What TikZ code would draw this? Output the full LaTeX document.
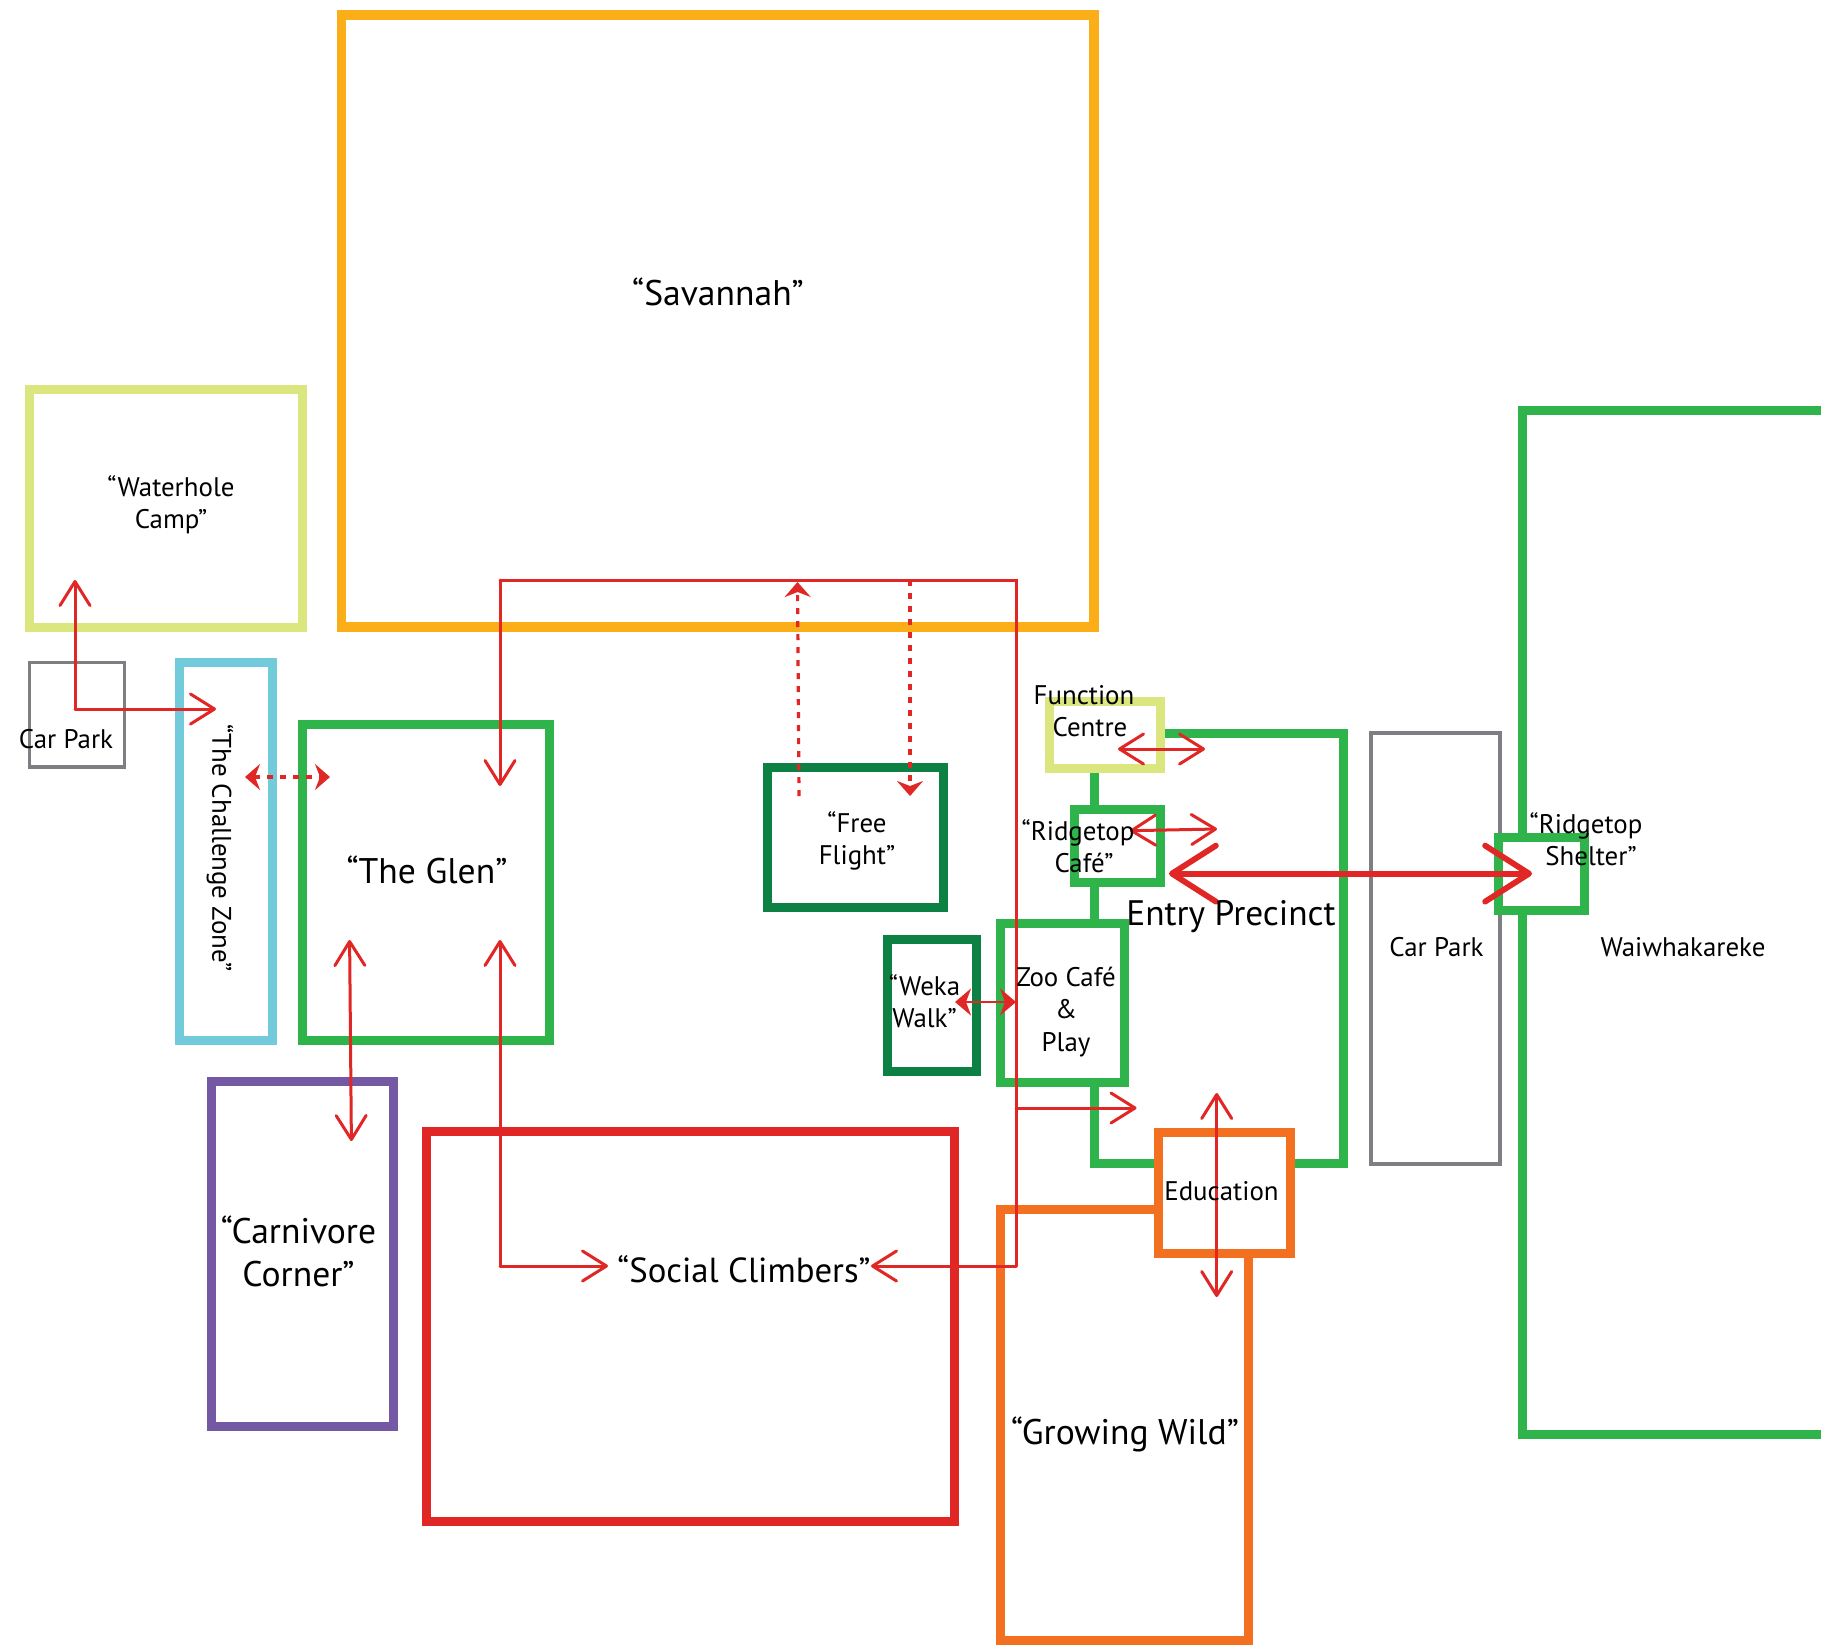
\documentclass[tikz,border=0pt]{standalone}
\usepackage{fontspec}
\setmainfont{PT Sans}
\usetikzlibrary{arrows.meta}
\definecolor{cgreen}{HTML}{2FB44B}
\definecolor{clime}{HTML}{DCE67F}
\definecolor{camber}{HTML}{FBAE17}
\definecolor{cteal}{HTML}{71CBDB}
\definecolor{cpurple}{HTML}{7558A4}
\definecolor{cred}{HTML}{E12726}
\definecolor{corange}{HTML}{F37021}
\definecolor{cgray}{HTML}{7D7F82}
\definecolor{cdark}{HTML}{0D8044}
\newcommand{\zone}[6]{%
  \pgfmathsetmacro{\zw}{(#4-#2)*0.5}\pgfmathsetmacro{\zh}{(#5-#3)*0.5}%
  \pgfmathsetmacro{\zx}{(#4+#2)/2}\pgfmathsetmacro{\zy}{(#5+#3)/2}%
  \node[zonebox,#6,minimum width=\zw pt,minimum height=\zh pt] (#1) at (\zx,\zy) {};}
\tikzset{
  zonebox/.style={rectangle,inner sep=0pt,outer sep=0pt,fill=white,line width=4.5pt,draw},
  thin box/.style={line width=1.8pt},
  small/.style={font=\fontsize{13.45}{16.2}\selectfont,align=center,inner sep=0pt,text=black},
  big/.style={font=\fontsize{17.8}{21.5}\selectfont,align=center,inner sep=0pt,text=black},
  link/.style={cred,line width=1.5pt,line cap=round,line join=miter},
  linkto/.style={link,-{Straight Barb[length=12pt,width=15pt,round]}},
  linkboth/.style={link,{Straight Barb[length=12pt,width=15pt,round]}-{Straight Barb[length=12pt,width=15pt,round]}},
  dotlink/.style={cred,line width=1.6pt,dash pattern=on 3pt off 3.5pt,-{Stealth[length=7.5pt,width=13pt,inset=2.5pt]}},
  dotboth/.style={cred,line width=1.6pt,dash pattern=on 3pt off 3.5pt,{Stealth[length=7.5pt,width=13pt,inset=2.5pt]}-{Stealth[length=7.5pt,width=13pt,inset=2.5pt]}},
  solidboth/.style={cred,line width=1.3pt,{Stealth[length=8pt,width=13.5pt,inset=2.5pt]}-{Stealth[length=8pt,width=13.5pt,inset=2.5pt]}},
  wide/.style={cred,line width=2.9pt,line cap=round,{Straight Barb[length=22pt,width=28pt,round]}-{Straight Barb[length=22pt,width=28pt,round]}}
}
\begin{document}
\begin{tikzpicture}[x=0.5pt,y=-0.5pt]
\useasboundingbox (0,0) rectangle (1821,1645);
\clip (0,0) rectangle (1821,1645);
% zones
\zone{water}{29.5}{389}{302.5}{627}{draw=clime}
\zone{savannah}{341.5}{15}{1094}{627}{draw=camber,line width=4.8pt}
\zone{lotw}{29.5}{662.5}{124.5}{767}{draw=cgray,thin box}
\zone{challenge}{179}{662.5}{272.5}{1040.5}{draw=cteal}
\zone{glen}{302}{724.5}{549.5}{1040.5}{draw=cgreen}
\zone{carnivore}{211}{1081}{393}{1426}{draw=cpurple}
\zone{social}{426}{1131}{954}{1521}{draw=cred}
\zone{free}{767.5}{767.5}{943.5}{907.5}{draw=cdark}
\zone{weka}{887}{939.5}{976.5}{1071.5}{draw=cdark}
\zone{waiwha}{1522.5}{410}{1900}{1434}{draw=cgreen}
\zone{entry}{1094.5}{733}{1343.5}{1163}{draw=cgreen}
\zone{lote}{1371}{733}{1500}{1164}{draw=cgray,thin box}
\zone{shelter}{1498}{837.5}{1584}{910.5}{draw=cgreen}
\zone{function}{1049}{701.5}{1160}{768}{draw=clime}
\zone{ridgecafe}{1074}{809.5}{1160}{882.5}{draw=cgreen}
\zone{zoocafe}{1000}{923.5}{1124}{1082.5}{draw=cgreen}
\zone{growing}{1000}{1209.5}{1248}{1640}{draw=corange}
\zone{education}{1158}{1132}{1290}{1253.5}{draw=corange}
% free ends of connectors
\coordinate (lotstart) at (75,709);
\coordinate (watertip) at (75,580);
\coordinate (chaltip) at (216,709);
\coordinate (dchal) at (245,777);
\coordinate (dglen) at (330,777);
\coordinate (ringtl) at (500,580);
\coordinate (ringtr) at (1016,580);
\coordinate (ringbr) at (1016,1266);
\coordinate (ringbl) at (500,1266);
\coordinate (glendown) at (500,786);
\coordinate (glenup) at (500,940);
\coordinate (socleft) at (608,1266);
\coordinate (socright) at (871,1266);
\coordinate (glencarn) at (349.6,940);
\coordinate (carnglen) at (351.4,1141);
\coordinate (freeoutb) at (799,796);
\coordinate (freeoutt) at (797.5,582);
\coordinate (freeint) at (910,580);
\coordinate (freeinb) at (910,796);
\coordinate (wekaend) at (955,1002);
\coordinate (zooend) at (1016,1002);
\coordinate (branch) at (1016,1108);
\coordinate (branchtip) at (1136.5,1108);
\coordinate (edutop) at (1216.7,1093);
\coordinate (edubot) at (1216.7,1297);
\coordinate (fca) at (1118,749);
\coordinate (fcb) at (1205,749);
\coordinate (rca) at (1130,830.7);
\coordinate (rcb) at (1217,829);
\coordinate (biga) at (1169,873.6);
\coordinate (bigb) at (1532,873.6);
% connectors
\draw[linkto] (lotstart) -- (watertip);
\draw[linkto] (lotstart) -- (chaltip);
\draw[dotboth] (dchal) -- (dglen);
\draw[linkto] (ringtl) -- (glendown);
\draw[link] (ringtl) -- (ringtr) -- (ringbr);
\draw[linkto] (ringbr) -- (socright);
\draw[linkto] (ringbl) -- (glenup);
\draw[linkto] (ringbl) -- (socleft);
\draw[linkboth] (glencarn) -- (carnglen);
\draw[dotlink] (freeoutb) -- (freeoutt);
\draw[dotlink] (freeint) -- (freeinb);
\draw[solidboth] (wekaend) -- (zooend);
\draw[linkto] (branch) -- (branchtip);
\draw[linkboth] (edutop) -- (edubot);
\draw[linkboth] (fca) -- (fcb);
\draw[linkboth] (rca) -- (rcb);
\draw[wide] (biga) -- (bigb);
% labels
\node[big] (tsav) at (718,292) {“Savannah”};
\node[small] (twat) at (171,505) {“Waterhole\\Camp”};
\node[small] (tlotw) at (66,739) {Car Park};
\node[small,rotate=-90] (tchal) at (220,848) {“The Challenge Zone”};
\node[big] (tglen) at (427,870) {“The Glen”};
\node[big] (tcarn) at (298.5,1251) {“Carnivore\\Corner”};
\node[big,font=\fontsize{17.4}{21.5}\selectfont] (tsoc) at (744,1269) {“Social Climbers”};
\node[big] (tgrow) at (1125,1434) {“Growing Wild”};
\node[small] (tfree) at (857,841) {“Free\\Flight”};
\node[small] (tweka) at (924.5,1001) {“Weka\\Walk”};
\node[small] (tfun) at (1084,711) {Function\\\hspace*{6pt}Centre};
\node[small] (trc) at (1078,846) {“Ridgetop\\\hspace*{6pt}Café”};
\node[small] (tzoo) at (1066,1012) {Zoo Café\\\&\\Play};
\node[font=\fontsize{17.7}{22}\selectfont,inner sep=0pt] (tentry) at (1231,917) {Entry Precinct};
\node[small] (tedu) at (1221.5,1191) {Education};
\node[small] (tlote) at (1436.5,947.5) {Car Park};
\node[small] (tshel) at (1586,839) {“Ridgetop\\\hspace*{5pt}Shelter”};
\node[small] (twai) at (1683,947.5) {Waiwhakareke};
\end{tikzpicture}
\end{document}
